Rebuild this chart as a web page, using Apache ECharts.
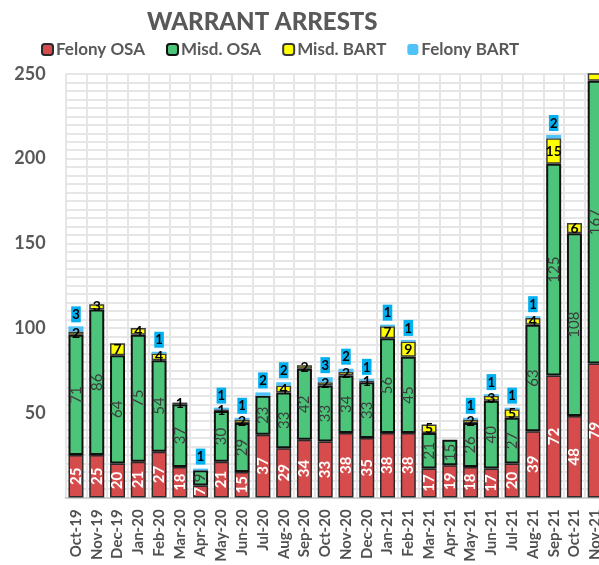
<!DOCTYPE html>
<html>
<head>
<meta charset="utf-8">
<script src="https://cdn.jsdelivr.net/npm/echarts@6/dist/echarts.min.js"></script>
<style>
  html, body { margin: 0; padding: 0; background: #fff; overflow: hidden; }
  #chart { width: 640px; height: 565px; }
</style>
</head>
<body>
<div id="chart"></div>
<script>
const months = ["Oct-19", "Nov-19", "Dec-19", "Jan-20", "Feb-20", "Mar-20", "Apr-20", "May-20", "Jun-20",
  "Jul-20", "Aug-20", "Sep-20", "Oct-20", "Nov-20", "Dec-20", "Jan-21", "Feb-21", "Mar-21", "Apr-21",
  "May-21", "Jun-21", "Jul-21", "Aug-21", "Sep-21", "Oct-21", "Nov-21"];

const felonyOSA = [25, 25, 20, 21, 27, 18, 7, 21, 15, 37, 29, 34, 33, 38, 35, 38, 38, 17, 19, 18, 17, 20, 39, 72, 48, 79];
const misdOSA = [71, 86, 64, 75, 54, 37, 9, 30, 29, 23, 33, 42, 33, 34, 33, 56, 45, 21, 15, 26, 40, 27, 63, 125, 108, 167];
const misdBART = [2, 3, 7, 4, 4, 1, null, 1, 2, null, 4, 2, 2, 2, 1, 7, 9, 5, null, 2, 3, 5, 4, 15, 6, 6];
const felonyBART = [3, null, null, null, 1, null, 1, 1, 1, 2, 2, null, 3, 2, 1, 1, 1, null, null, 1, 1, 1, 1, 2, null, null];

const yMax = 250;
const font = "Lato";
const grey = "#595959";

// a label whose bar runs past the top of the plot is cut off in the original
function keepInside(p) {
  const top = (felonyOSA[p.dataIndex] || 0) + (misdOSA[p.dataIndex] || 0) + (misdBART[p.dataIndex] || 0);
  return top > yMax ? "" : p.value;
}

const chart = echarts.init(document.getElementById("chart"));

chart.setOption({
  animation: false,
  title: {
    text: "WARRANT ARRESTS",
    left: 142,
    top: 5,
    textStyle: { fontFamily: font, fontSize: 24, fontWeight: 900, color: grey }
  },
  legend: {
    left: 36,
    top: 36,
    itemWidth: 11,
    itemHeight: 11,
    itemGap: 21,
    textStyle: { fontFamily: font, fontSize: 17, fontWeight: "bold", color: grey, padding: [0, 0, 0, -2] },
    data: ["Felony OSA", "Misd. OSA", "Misd. BART", "Felony BART"]
  },
  grid: { left: 65.6, top: 74, width: 540, bottom: 67.6, containLabel: false },
  xAxis: {
    type: "category",
    data: months,
    axisTick: { show: false },
    axisLine: { lineStyle: { color: "#d0d0d0", width: 2 } },
    splitLine: { show: true, lineStyle: { color: "#e6e6e6", width: 2 } },
    axisLabel: {
      rotate: 90,
      interval: 0,
      margin: 12,
      fontFamily: font,
      fontSize: 15,
      fontWeight: "bold",
      color: "#505050"
    }
  },
  yAxis: {
    type: "value",
    min: 0,
    max: yMax,
    interval: 50,
    axisLine: { show: false },
    axisTick: { show: false },
    axisLabel: { margin: 20, fontFamily: font, fontSize: 18, fontWeight: "bold", color: grey,
      formatter: v => (v === 0 ? "" : v) },
    splitLine: { lineStyle: { color: "#e6e6e6", width: 2 } },
    minorTick: { show: false, splitNumber: 10 },
    minorSplitLine: { show: true, lineStyle: { color: "#e6e6e6", width: 2 } }
  },
  series: [
    {
      name: "Felony OSA",
      type: "bar",
      stack: "all",
      barWidth: 15,
      data: felonyOSA,
      itemStyle: { color: "#D64B4B", borderColor: "#2a2a2a", borderWidth: 1.5 },
      label: { show: true, position: "inside", rotate: 90, color: "#fff",
        fontFamily: font, fontSize: 15, fontWeight: "bold" }
    },
    {
      name: "Misd. OSA",
      type: "bar",
      stack: "all",
      data: misdOSA,
      itemStyle: { color: "#4CC47A", borderColor: "#111", borderWidth: 2 },
      label: { show: true, position: "inside", rotate: 90, color: "#3c3c3c",
        fontFamily: font, fontSize: 15 }
    },
    {
      name: "Misd. BART",
      type: "bar",
      stack: "all",
      data: misdBART,
      itemStyle: { color: "#FFFF00", borderColor: "#3a3a3a", borderWidth: 1.5 },
      label: { show: true, position: "inside", color: "#000", formatter: keepInside,
        fontFamily: font, fontSize: 14, fontWeight: "bold" }
    },
    {
      name: "Felony BART",
      type: "bar",
      stack: "all",
      data: felonyBART,
      itemStyle: { color: "#4FC3F7" },
      label: { show: true, position: "top", distance: 4, color: "#000", backgroundColor: "#00B0F0",
        padding: [2, 1, 1, 1], fontFamily: font, fontSize: 13, fontWeight: "bold" }
    }
  ]
});
</script>
</body>
</html>
